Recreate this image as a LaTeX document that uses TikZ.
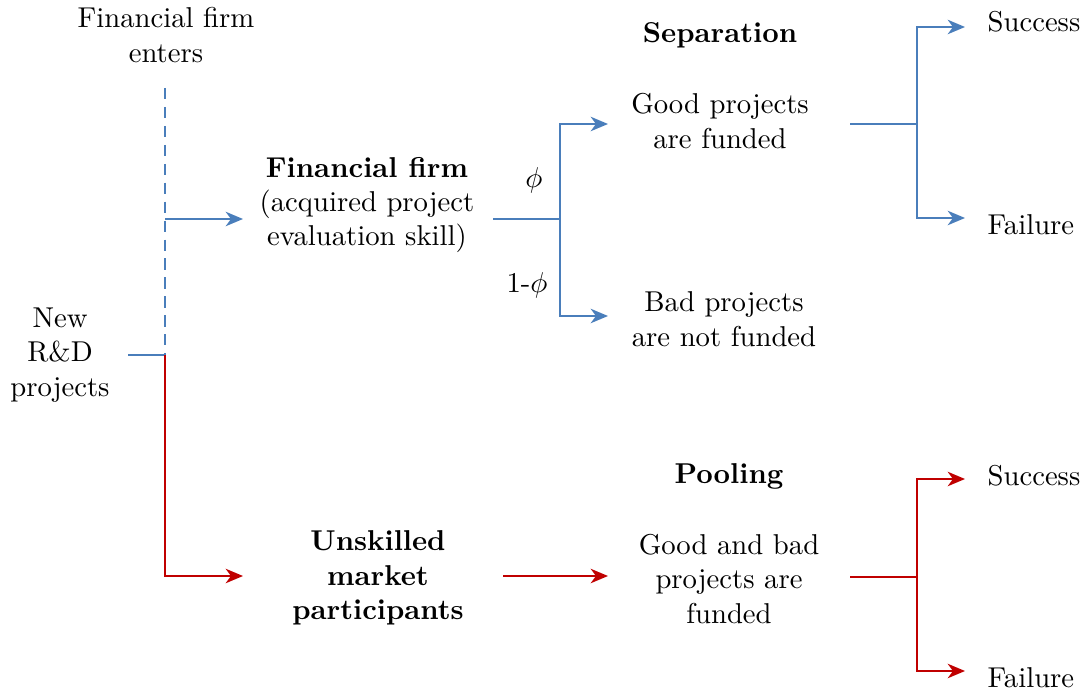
\documentclass[tikz,border=0pt]{standalone}
\usetikzlibrary{arrows.meta}
\definecolor{fblue}{RGB}{74,126,187}
\definecolor{fred}{RGB}{192,0,0}
\begin{document}
\begin{tikzpicture}[x=0.3484pt,y=-0.3484pt,
  txt/.style={align=center,inner sep=0pt},
  bl/.style={draw=fblue,line width=0.9pt},
  rd/.style={draw=fred,line width=0.9pt},
  arr/.style={-{Stealth[length=6pt,width=5pt,inset=1.8pt]}},
  dsh/.style={dash pattern=on 3.9pt off 2.7pt}]
\useasboundingbox (0,0) rectangle (1086,696);
% texts
\node[txt] (enter) at (166,35) {Financial firm\\enters};
\node[txt] (new) at (60,355) {New\\R\&D\\projects};
\node[txt] (ff) at (367,205) {\textbf{Financial firm}\\(acquired project\\evaluation skill)};
\node[txt] (phi) at (534,180) {$\phi$};
\node[txt] (omphi) at (527,285) {1-$\phi$};
\node[txt] (sep) at (720,35) {\textbf{Separation}};
\node[txt] (good) at (720,121) {Good projects\\are funded};
\node[txt] (bad) at (724,319) {Bad projects\\are not funded};
\node[txt,anchor=west] (succ1) at (987,22) {Success};
\node[txt,anchor=west] (fail1) at (987,225) {Failure};
\node[txt] (pool) at (729,476) {\textbf{Pooling}};
\node[txt] (gb) at (729,579) {Good and bad\\projects are\\funded};
\node[txt] (uns) at (378,578) {\textbf{Unskilled}\\\textbf{market}\\\textbf{participants}};
\node[txt,anchor=west] (succ2) at (987,476) {Success};
\node[txt,anchor=west] (fail2) at (987,678) {Failure};
% coordinates
\coordinate (dtop) at (165,88);
\coordinate (nsplit) at (165,355);
\coordinate (nstart) at (128,355);
\coordinate (fbr) at (165,219);
\coordinate (ffin) at (243,219);
\coordinate (rcorner) at (165,576);
\coordinate (uin) at (243,576);
\coordinate (fout) at (493,219);
\coordinate (fsplit) at (560,219);
\coordinate (ftop) at (560,124);
\coordinate (fbot) at (560,316);
\coordinate (goodin) at (608,124);
\coordinate (badin) at (608,316);
\coordinate (gout) at (850,124);
\coordinate (gsplit) at (917,124);
\coordinate (gtop) at (917,27);
\coordinate (gbot) at (917,218);
\coordinate (s1in) at (965,27);
\coordinate (f1in) at (965,218);
\coordinate (uout) at (503,576);
\coordinate (gbin) at (608,576);
\coordinate (pout) at (850,577);
\coordinate (psplit) at (917,577);
\coordinate (ptop) at (917,479);
\coordinate (pbot) at (917,671);
\coordinate (s2in) at (965,479);
\coordinate (f2in) at (965,671);
% blue connectors
\draw[bl,dsh] (dtop) -- (nsplit);
\draw[bl] (nstart) -- (nsplit);
\draw[bl,arr] (fbr) -- (ffin);
\draw[bl] (fout) -- (fsplit);
\draw[bl,arr] (fsplit) -- (ftop) -- (goodin);
\draw[bl,arr] (fsplit) -- (fbot) -- (badin);
\draw[bl] (gout) -- (gsplit);
\draw[bl,arr] (gsplit) -- (gtop) -- (s1in);
\draw[bl,arr] (gsplit) -- (gbot) -- (f1in);
% red connectors
\draw[rd,arr] (nsplit) -- (rcorner) -- (uin);
\draw[rd,arr] (uout) -- (gbin);
\draw[rd] (pout) -- (psplit);
\draw[rd,arr] (psplit) -- (ptop) -- (s2in);
\draw[rd,arr] (psplit) -- (pbot) -- (f2in);
\end{tikzpicture}
\end{document}
